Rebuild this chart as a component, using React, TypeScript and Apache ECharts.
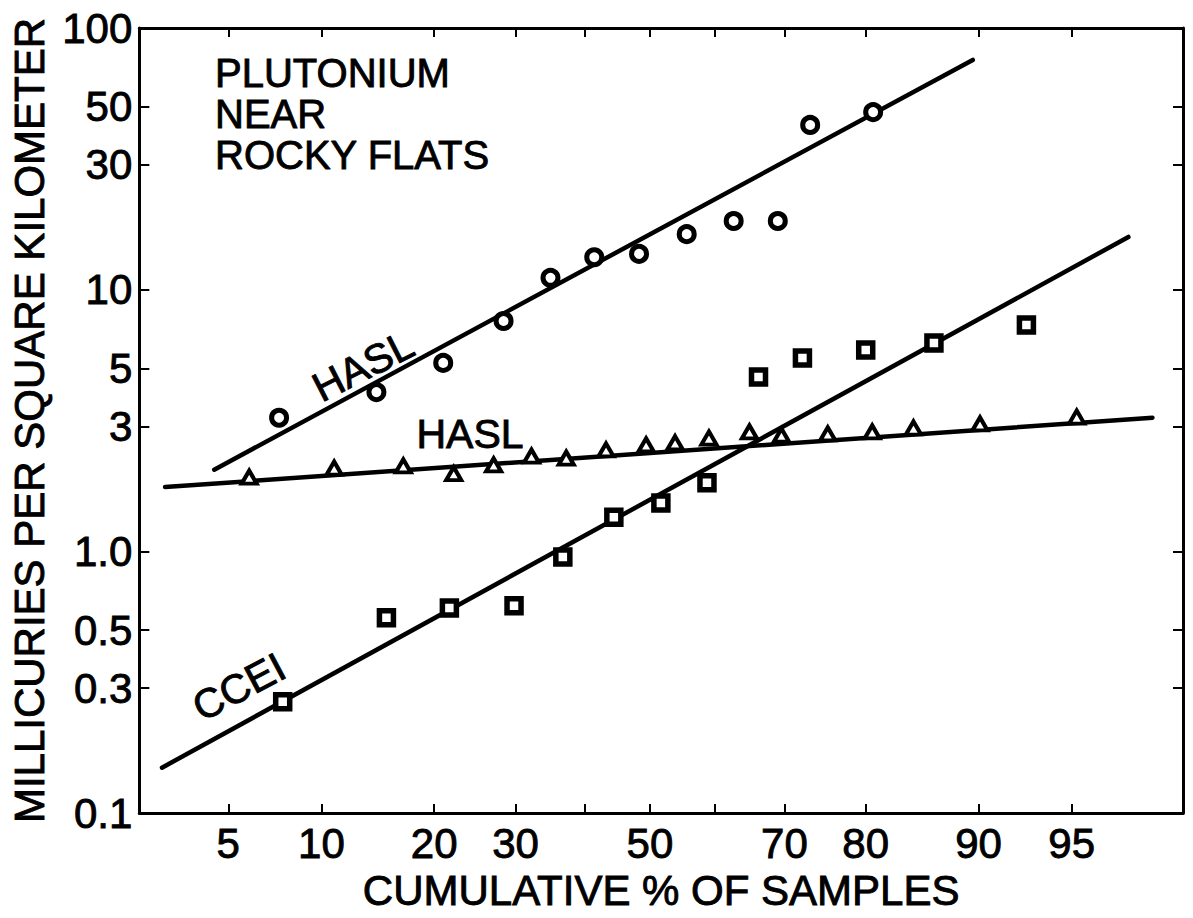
import React, { useEffect, useRef } from "react";
import * as echarts from "echarts";

// ---- Axis definitions (normal-probability x axis, logarithmic y axis) ----
const X_MIN_PCT = 2.32;
const X_MAX_PCT = 98.12;
const xTickPcts = [5, 10, 20, 30, 40, 50, 60, 70, 80, 90, 95];
const xLabelPcts = [5, 10, 20, 30, 50, 70, 80, 90, 95];
const Y_MIN = 0.1;
const Y_MAX = 100;
const yTickValues = [0.1, 0.3, 0.5, 1, 3, 5, 10, 30, 50, 100];
const yTickLabels = ["0.1", "0.3", "0.5", "1.0", "3", "5", "10", "30", "50", "100"];

// ---- Data: cumulative % of samples, millicuries per km² ----
const haslCirclePct = [7.4, 14.3, 21.0, 28.4, 34.9, 41.4, 48.3, 55.7, 62.8, 69.1, 73.4, 80.8];
const haslCircleVal = [3.24, 4.06, 5.25, 7.59, 11.1, 13.3, 13.7, 16.3, 18.3, 18.3, 42.6, 47.7];

const haslTrianglePct = [5.9, 10.9, 16.8, 22.2, 27.1, 32.2, 37.2, 43.2, 49.4, 53.9, 59.1, 65.1, 69.6, 75.6, 80.7, 84.8, 90.1, 95.2];
const haslTriangleVal = [1.92, 2.08, 2.12, 1.98, 2.14, 2.31, 2.27, 2.44, 2.55, 2.6, 2.71, 2.86, 2.78, 2.81, 2.86, 2.96, 3.07, 3.26];

const cceiSquarePct = [7.6, 15.2, 21.7, 29.8, 36.7, 44.4, 51.7, 58.8, 66.4, 72.4, 80.0, 86.6, 92.9];
const cceiSquareVal = [0.266, 0.557, 0.608, 0.619, 0.952, 1.35, 1.53, 1.83, 4.64, 5.48, 5.88, 6.26, 7.33];

// fitted lines: [start, end] as [pct, value]
const haslUpperFitPct = [4.46, 89.6];
const haslUpperFitVal = [2.05, 75.5];
const haslLowerFitPct = [2.93, 97.5];
const haslLowerFitVal = [1.76, 3.24];
const cceiFitPct = [2.85, 96.9];
const cceiFitVal = [0.149, 15.9];

// inverse standard normal CDF (Acklam) – probability-paper axis transform
function probit(p: number): number {
  const a = [-3.969683028665376e1, 2.209460984245205e2, -2.759285104469687e2, 1.38357751867269e2, -3.066479806614716e1, 2.506628277459239];
  const b = [-5.447609879822406e1, 1.615858368580409e2, -1.556989798598866e2, 6.680131188771972e1, -1.328068155288572e1];
  const c = [-7.784894002430293e-3, -3.223964580411365e-1, -2.400758277161838, -2.549732539343734, 4.374664141464968, 2.938163982698783];
  const d = [7.784695709041462e-3, 3.224671290700398e-1, 2.445134137142996, 3.754408661907416];
  const pl = 0.02425;
  const ph = 1 - pl;
  let q: number, r: number;
  if (p < pl) {
    q = Math.sqrt(-2 * Math.log(p));
    return (((((c[0] * q + c[1]) * q + c[2]) * q + c[3]) * q + c[4]) * q + c[5]) / ((((d[0] * q + d[1]) * q + d[2]) * q + d[3]) * q + 1);
  }
  if (p <= ph) {
    q = p - 0.5;
    r = q * q;
    return ((((((a[0] * r + a[1]) * r + a[2]) * r + a[3]) * r + a[4]) * r + a[5]) * q) / (((((b[0] * r + b[1]) * r + b[2]) * r + b[3]) * r + b[4]) * r + 1);
  }
  q = Math.sqrt(-2 * Math.log(1 - p));
  return -(((((c[0] * q + c[1]) * q + c[2]) * q + c[3]) * q + c[4]) * q + c[5]) / ((((d[0] * q + d[1]) * q + d[2]) * q + d[3]) * q + 1);
}

const px = (pct: number) => probit(pct / 100);
const py = (v: number) => Math.log10(v);
const toPoints = (pcts: number[], vals: number[]) => pcts.map((p, i) => [px(p), py(vals[i])]);

const FONT = '"Liberation Sans", Arial, sans-serif';
const INK = "#000";
const heavy = { textBorderColor: INK, textBorderWidth: 0.9 };

export default function App() {
  const ref = useRef<HTMLDivElement>(null);

  useEffect(() => {
    if (!ref.current) return;
    const chart = echarts.init(ref.current, undefined, { renderer: "svg" });

    const xLabelZ = xLabelPcts.map(px);
    const xTickZ = xTickPcts.map(px);
    const yTickL = yTickValues.map(py);

    const xFmt = (v: number) => {
      const i = xLabelZ.findIndex((z) => Math.abs(z - v) < 1e-6);
      return i >= 0 ? String(xLabelPcts[i]) : "";
    };
    const yFmt = (v: number) => {
      const i = yTickL.findIndex((z) => Math.abs(z - v) < 1e-6);
      return i >= 0 ? yTickLabels[i] : "";
    };

    const axisLine = { show: true, onZero: false, lineStyle: { color: INK, width: 3 } };
    const xMin = px(X_MIN_PCT);
    const xMax = px(X_MAX_PCT);
    const yMin = py(Y_MIN);
    const yMax = py(Y_MAX);

    const option: any = {
      animation: false,
      backgroundColor: "#ffffff",
      grid: { left: 137, right: 10, top: 28, bottom: 105, containLabel: false },
      xAxis: [
        {
          type: "value",
          position: "bottom",
          min: xMin,
          max: xMax,
          axisLine,
          splitLine: { show: false },
          axisTick: { show: true, inside: true, length: 9, customValues: xTickZ, lineStyle: { color: INK, width: 2 } },
          axisLabel: { show: true, customValues: xLabelZ, formatter: xFmt, margin: 9, color: INK, fontSize: 42, fontFamily: FONT, ...heavy },
          name: "CUMULATIVE % OF SAMPLES",
          nameLocation: "middle",
          nameGap: 56,
          nameTextStyle: { color: INK, fontSize: 42, fontFamily: FONT, ...heavy },
        },
        {
          type: "value",
          position: "top",
          min: xMin,
          max: xMax,
          axisLine,
          splitLine: { show: false },
          axisTick: { show: true, inside: true, length: 9, customValues: xTickZ, lineStyle: { color: INK, width: 2 } },
          axisLabel: { show: false },
        },
      ],
      yAxis: [
        {
          type: "value",
          position: "left",
          min: yMin,
          max: yMax,
          axisLine,
          splitLine: { show: false },
          axisTick: { show: true, inside: true, length: 10, customValues: yTickL, lineStyle: { color: INK, width: 2 } },
          axisLabel: { show: true, customValues: yTickL, formatter: yFmt, margin: 7, color: INK, fontSize: 42, fontFamily: FONT, ...heavy },
          name: "MILLICURIES PER SQUARE KILOMETER",
          nameLocation: "middle",
          nameGap: 83,
          nameTextStyle: { color: INK, fontSize: 42, fontFamily: FONT, ...heavy },
        },
        {
          type: "value",
          position: "right",
          min: yMin,
          max: yMax,
          axisLine,
          splitLine: { show: false },
          axisTick: { show: true, inside: true, length: 10, customValues: yTickL, lineStyle: { color: INK, width: 2 } },
          axisLabel: { show: false },
        },
      ],
      series: [
        {
          name: "HASL fit (upper)",
          type: "line",
          data: toPoints(haslUpperFitPct, haslUpperFitVal),
          symbol: "none",
          lineStyle: { color: INK, width: 4.5, cap: "round" },
          z: 2,
        },
        {
          name: "HASL fit (lower)",
          type: "line",
          data: toPoints(haslLowerFitPct, haslLowerFitVal),
          symbol: "none",
          lineStyle: { color: INK, width: 4.5, cap: "round" },
          z: 2,
        },
        {
          name: "CCEI fit",
          type: "line",
          data: toPoints(cceiFitPct, cceiFitVal),
          symbol: "none",
          lineStyle: { color: INK, width: 4.5, cap: "round" },
          z: 2,
        },
        {
          name: "HASL circles",
          type: "scatter",
          data: toPoints(haslCirclePct, haslCircleVal),
          symbol: "circle",
          symbolSize: 15,
          itemStyle: { color: "#fff", borderColor: INK, borderWidth: 5, opacity: 1 },
          z: 3,
        },
        {
          name: "HASL triangles",
          type: "scatter",
          data: toPoints(haslTrianglePct, haslTriangleVal),
          symbol: "triangle",
          symbolSize: [15, 13],
          itemStyle: { color: "#fff", borderColor: INK, borderWidth: 4, opacity: 1 },
          z: 3,
        },
        {
          name: "CCEI squares",
          type: "scatter",
          data: toPoints(cceiSquarePct, cceiSquareVal),
          symbol: "rect",
          symbolSize: 14,
          itemStyle: { color: "#fff", borderColor: INK, borderWidth: 5.5, opacity: 1 },
          z: 3,
        },
      ],
      graphic: [
        {
          type: "text",
          x: 215,
          y: 52,
          style: { text: "PLUTONIUM\nNEAR\nROCKY FLATS", fontSize: 40, lineHeight: 41, fontFamily: FONT, fill: INK, align: "left", verticalAlign: "top", stroke: INK, lineWidth: 0.9 },
        },
        { type: "text", x: 363, y: 366, rotation: (27 * Math.PI) / 180, style: { text: "HASL", fontSize: 41, fontFamily: FONT, fill: INK, align: "center", verticalAlign: "middle", stroke: INK, lineWidth: 0.9 } },
        { type: "text", x: 470, y: 434, style: { text: "HASL", fontSize: 41, fontFamily: FONT, fill: INK, align: "center", verticalAlign: "middle", stroke: INK, lineWidth: 0.9 } },
        { type: "text", x: 239, y: 687, rotation: (28 * Math.PI) / 180, style: { text: "CCEI", fontSize: 41, fontFamily: FONT, fill: INK, align: "center", verticalAlign: "middle", stroke: INK, lineWidth: 0.9 } },
      ],
    };

    chart.setOption(option);
    return () => chart.dispose();
  }, []);

  return (
    <div
      ref={ref}
      style={{ position: "fixed", left: 0, top: 0, width: 1193, height: 918, background: "#fff" }}
    />
  );
}
